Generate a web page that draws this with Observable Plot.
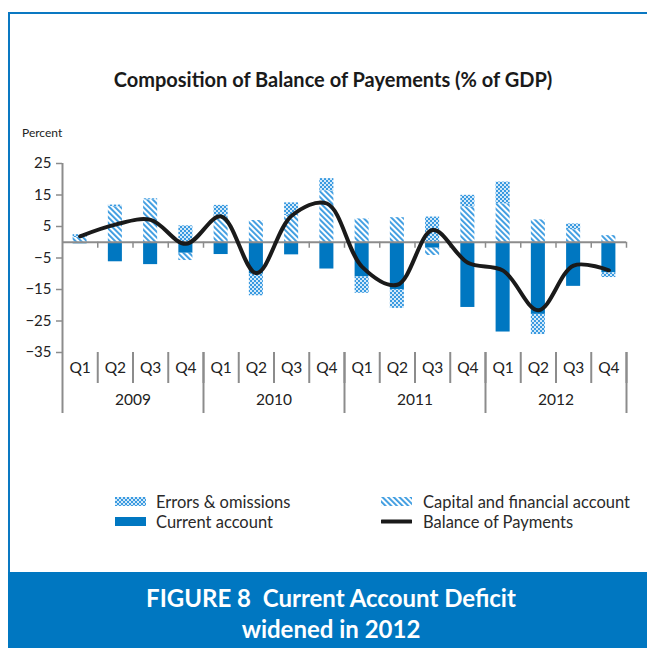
<!DOCTYPE html>
<html>
<head>
<meta charset="utf-8">
<script src="https://cdn.jsdelivr.net/npm/d3@7"></script>
<script src="https://cdn.jsdelivr.net/npm/@observablehq/plot@0.6"></script>
<style>
  body { margin: 0; background: #fff; font-family: Lato, "Open Sans", sans-serif; }
  #page { position: relative; width: 647px; height: 648px; overflow: hidden; background: #fff; }
  #frame { position: absolute; left: 8px; top: 12px; width: 700px; height: 570px; border-left: 2px solid #0a78c2; border-top: 2px solid #0a78c2; box-sizing: border-box; }
  #title { position: absolute; left: 0; width: 666px; top: 67px; text-align: center; font-weight: 700; font-size: 20px; color: #1a1a1a; line-height: 24px; }
  #unit { position: absolute; left: 22px; top: 125px; font-size: 12px; color: #222; }
  #chart { position: absolute; left: 0; top: 150px; }
  .leg { position: absolute; font-size: 16.5px; color: #2a2a2a; line-height: 18px; white-space: nowrap; }
  .sw { position: absolute; }
  #caption { position: absolute; left: 8px; top: 572px; width: 639px; height: 76px; background: #0077c1; }
  #captext { position: absolute; left: 0; width: 662px; top: 582px; text-align: center; color: #fff; font-weight: 700; font-size: 24px; line-height: 31px; }
</style>
</head>
<body>
<svg width="0" height="0" style="position:absolute">
  <defs>
    <pattern id="hatch" patternUnits="userSpaceOnUse" width="4" height="4" patternTransform="rotate(-45)">
      <rect width="4" height="4" fill="#ffffff"></rect>
      <rect width="1.9" height="4" fill="#3c9be0"></rect>
    </pattern>
    <pattern id="checker" patternUnits="userSpaceOnUse" width="4" height="4">
      <rect width="4" height="4" fill="#d3e9f9"></rect>
      <rect x="0" y="0" width="2" height="2" fill="#3a9ae0"></rect>
      <rect x="2" y="2" width="2" height="2" fill="#3a9ae0"></rect>
    </pattern>
  </defs>
</svg>
<div id="page">
  <div id="frame"></div>
  <div id="title">Composition of Balance of Payements (% of GDP)</div>
  <div id="unit">Percent</div>
  <div id="chart"></div>

  <svg class="sw" style="left:115px;top:497px" width="31" height="9"><rect width="31" height="9" fill="url(#checker)"></rect></svg>
  <div class="leg" style="left:156px;top:493px">Errors &amp; omissions</div>
  <svg class="sw" style="left:115px;top:517px" width="31" height="9"><rect width="31" height="9" fill="#0077c1"></rect></svg>
  <div class="leg" style="left:156px;top:513px">Current account</div>
  <svg class="sw" style="left:381px;top:497px" width="31" height="9"><rect width="31" height="9" fill="url(#hatch)"></rect></svg>
  <div class="leg" style="left:423px;top:493px">Capital and financial account</div>
  <svg class="sw" style="left:381px;top:517px" width="31" height="9"><line x1="1" y1="4.5" x2="30" y2="4.5" stroke="#1a1a1a" stroke-width="4" stroke-linecap="round"></line></svg>
  <div class="leg" style="left:423px;top:513px">Balance of Payments</div>

  <div id="caption"></div>
  <div id="captext">FIGURE 8&nbsp; Current Account Deficit<br>widened in 2012</div>
</div>
<script>
const quarters = ["Q1","Q2","Q3","Q4","Q1","Q2","Q3","Q4","Q1","Q2","Q3","Q4","Q1","Q2","Q3","Q4"];
const years = ["2009","2010","2011","2012"];
const series = ["Current account","Capital and financial account","Errors & omissions"];
const currentAccount  = [-0.5, -6.2, -7.1, -3.5, -3.9, -10.1, -4.0, -8.5, -11.0, -15.1, -1.9, -20.7, -28.5, -22.9, -14.0, -9.7];
const capitalAccount  = [ 1.5, 11.3, 13.5, -2.3,  8.0,   6.9,  8.5, 16.3,   7.4,   7.8, -2.3,  11.2,  12.2,   7.1,   4.0,  2.1];
const errorsOmissions = [ 0.9,  0.5,  0.3,  5.2,  3.7,  -6.9,  4.0,  3.9,  -5.2,  -5.9,  8.0,   3.7,   6.9,  -6.4,   1.8, -1.5];
const balance         = [ 1.9,  5.6,  7.1, -0.5,  8.2,  -9.8,  8.4, 12.3,  -7.8, -13.5,  3.9,  -6.5,  -9.0, -21.6,  -7.4, -8.9];
const yTicks = [-35, -25, -15, -5, 5, 15, 25];

const seriesValues = [currentAccount, capitalAccount, errorsOmissions];
const rows = quarters.flatMap((q, i) => series.map((s, k) => ({i, series: s, value: seriesValues[k][i]})));
const qBounds = d3.range(1, quarters.length + 1);
const yBounds = years.map((y, k) => (k + 1) * 4);
const gray = "#8c8c8c";

const chart = Plot.plot({
  width: 647,
  height: 263,
  marginLeft: 62,
  marginRight: 21,
  marginTop: 13,
  marginBottom: 61,
  style: {fontFamily: "Lato, 'Open Sans', sans-serif", fontSize: "15px", color: "#222", background: "transparent", overflow: "visible"},
  x: {type: "linear", domain: [0, quarters.length], axis: null},
  y: {domain: [-35, 25], axis: null},
  color: {domain: series, range: ["#0077c1", "url(#hatch)", "url(#checker)"]},
  marks: [
    Plot.rectY(rows, Plot.stackY({x1: "i", x2: d => d.i + 1, y: "value", fill: "series", insetLeft: 10.6, insetRight: 10.6})),
    Plot.ruleY([0], {stroke: gray, strokeWidth: 2}),
    Plot.ruleX(qBounds, {x: d => d, y1: 0, y2: 0, insetBottom: -6, stroke: gray, strokeWidth: 1.5}),
    Plot.ruleX([0], {stroke: gray, strokeWidth: 2, insetBottom: -61}),
    Plot.axisY(yTicks, {anchor: "left", tickSize: 6, tickPadding: 5, stroke: gray, strokeWidth: 1.5, fill: "#222", fontSize: 15, label: null}),
    Plot.axisX(qBounds, {anchor: "bottom", tickSize: 31, tickFormat: () => "", stroke: gray, strokeWidth: 2, label: null}),
    Plot.axisX(yBounds, {anchor: "bottom", tickSize: 61, tickFormat: () => "", stroke: gray, strokeWidth: 2, label: null}),
    Plot.text(quarters, {x: (d, i) => i + 0.5, text: d => d, frameAnchor: "bottom", dy: 20, fill: "#222", fontSize: 15.5}),
    Plot.text(years, {x: (d, k) => k * 4 + 2, text: d => d, frameAnchor: "bottom", dy: 52, fill: "#222", fontSize: 15.5}),
    Plot.line(balance, {x: (d, i) => i + 0.5, y: d => d, curve: "catmull-rom", stroke: "#1a1a1a", strokeWidth: 4, strokeLinecap: "round"})
  ]
});
document.getElementById("chart").appendChild(chart);
</script>
</body>
</html>
